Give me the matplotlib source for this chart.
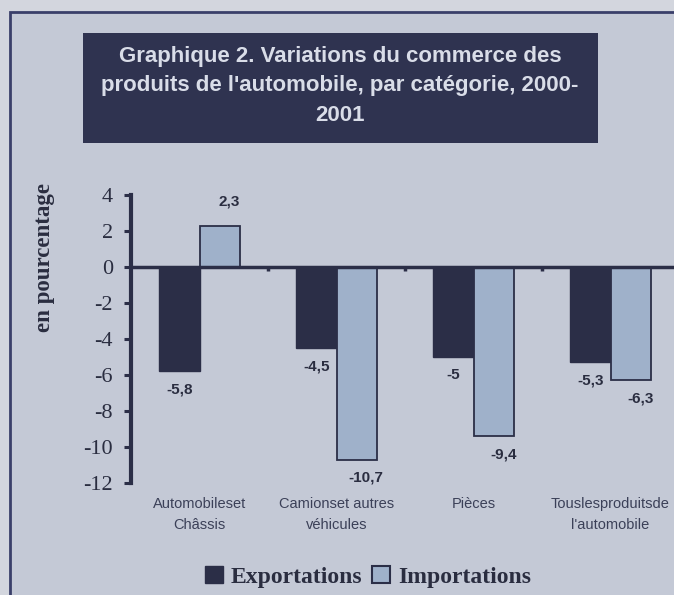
import matplotlib
matplotlib.use("Agg")
import matplotlib.pyplot as plt
from matplotlib.patches import Rectangle, Patch
from matplotlib.transforms import blended_transform_factory
import numpy as np

CATEGORIES = ["Automobileset\nChâssis", "Camionset autres\nvéhicules", "Pièces",
              "Touslesproduitsde\nl'automobile"]
EXPORTS = [-5.8, -4.5, -5.0, -5.3]
IMPORTS = [2.3, -10.7, -9.4, -6.3]
EXP_LABELS = ["-5,8", "-4,5", "-5", "-5,3"]
IMP_LABELS = ["2,3", "-10,7", "-9,4", "-6,3"]
YTICKS = [-12, -10, -8, -6, -4, -2, 0, 2, 4]
TITLE = ("Graphique 2. Variations du commerce des\n"
         "produits de l'automobile, par catégorie, 2000-\n2001")

NAVY = "#2b2e47"
LIGHT = "#9fb1ca"
BG = "#c4c9d6"
TXT = "#2a2d40"

plt.rcParams["axes.unicode_minus"] = False

W, H = 674, 595
fig = plt.figure(figsize=(W / 100, H / 100), dpi=100, facecolor="#d3d6de")

def fx(px): return px / W
def fy(py): return 1 - py / H

# outer frame
fig.add_artist(Rectangle((fx(10), -0.1), 1.2, fy(12) + 0.1, transform=fig.transFigure,
                         facecolor=BG, edgecolor="#3a3f6a", lw=2, zorder=0))
# title box
fig.add_artist(Rectangle((fx(83), fy(143)), fx(598) - fx(83), fy(33) - fy(143),
                         transform=fig.transFigure, facecolor="#2f3350",
                         edgecolor="none", zorder=1))
fig.text(fx(340), fy(86), TITLE, ha="center", va="center", color="#d9dde8",
         fontsize=16, fontweight="bold", family="Liberation Sans",
         linespacing=1.55, zorder=2)

ax = fig.add_axes([fx(131), fy(483), fx(679) - fx(131), fy(195) - fy(483)])
ax.patch.set_visible(False)

x = np.arange(len(CATEGORIES))
bw = 0.292
off = 0.146
ax.bar(x - off, EXPORTS, bw, color=NAVY, edgecolor=NAVY, lw=1, zorder=2)
ax.bar(x + off, IMPORTS, bw, color=LIGHT, edgecolor=NAVY, lw=1.3, zorder=2)

for xi, v, s in zip(x, EXPORTS, EXP_LABELS):
    ax.annotate(s, (xi - off, v), xytext=(0, -13 if v < 0 else 17),
                textcoords="offset points", ha="center", va="center",
                fontsize=11, fontweight="bold", color=TXT, family="Liberation Sans")
for xi, v, s in zip(x, IMPORTS, IMP_LABELS):
    ax.annotate(s, (xi + off, v), xytext=(7, -13 if v < 0 else 17),
                textcoords="offset points", ha="center", va="center",
                fontsize=11, fontweight="bold", color=TXT, family="Liberation Sans")

ax.set_xlim(-0.5, 3.5)
ax.set_ylim(-12, 4)
ax.set_yticks(YTICKS)
ax.set_yticklabels([str(t) for t in YTICKS], family="Liberation Serif",
                   fontsize=16, color=TXT)
ax.tick_params(axis="y", direction="out", length=5, width=2.2, color=NAVY, pad=8)
ax.set_xticks(x + 0.5)
ax.set_xticklabels([])
ax.tick_params(axis="x", direction="out", length=3, width=2.5, color=NAVY)

for side in ("top", "right"):
    ax.spines[side].set_visible(False)
ax.spines["bottom"].set_position(("data", 0))
ax.spines["bottom"].set_color(NAVY)
ax.spines["bottom"].set_linewidth(2.5)
ax.spines["bottom"].set_zorder(3)
ax.spines["left"].set_color(NAVY)
ax.spines["left"].set_linewidth(3)

tr = blended_transform_factory(ax.transData, fig.transFigure)
for xi, c in zip(x, CATEGORIES):
    ax.text(xi, fy(497), c, transform=tr, ha="center", va="top", fontsize=10.5,
            color="#3b4058", family="Liberation Sans", linespacing=1.65)

fig.text(fx(45), fy(258), "en pourcentage", rotation=90, ha="center", va="center",
         fontsize=16.5, fontweight="bold", family="Liberation Serif", color=TXT)

handles = [Patch(facecolor=NAVY, edgecolor=NAVY, label="Exportations"),
           Patch(facecolor=LIGHT, edgecolor=NAVY, lw=1.5, label="Importations")]
fig.legend(handles=handles, loc="center", bbox_to_anchor=(fx(368), fy(577)), ncol=2,
           frameon=False, handlelength=0.75, handleheight=0.75, handletextpad=0.35,
           columnspacing=0.4, prop={"family": "Liberation Serif", "weight": "bold",
                                    "size": 17}, labelcolor=TXT)

fig.savefig("out.png", dpi=100, facecolor=fig.get_facecolor())
